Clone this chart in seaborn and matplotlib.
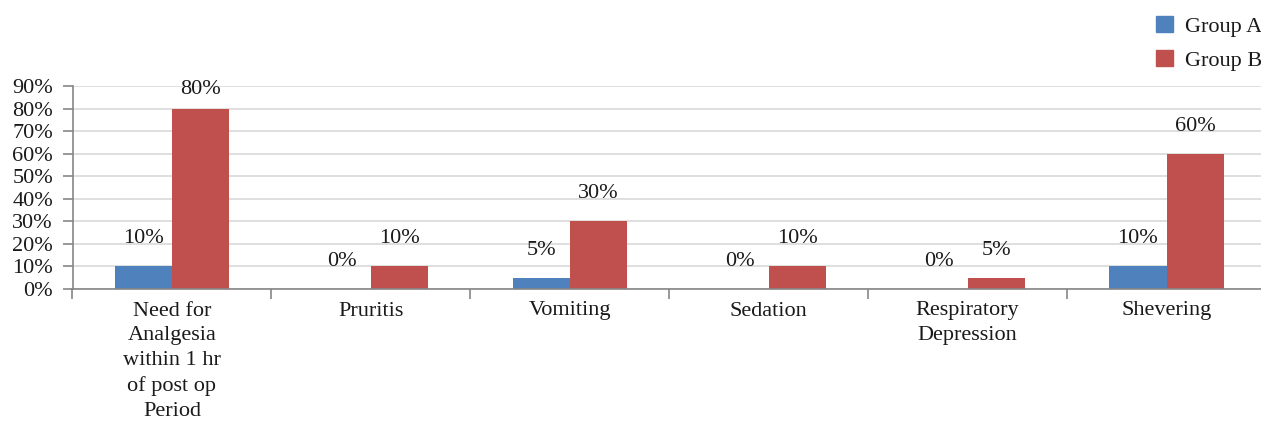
import matplotlib
matplotlib.use("Agg")
import matplotlib.pyplot as plt
import seaborn as sns
import pandas as pd
from matplotlib.ticker import FuncFormatter, MultipleLocator

categories = [
    "Need for\nAnalgesia\nwithin 1 hr\nof post op\nPeriod",
    "Pruritis",
    "Vomiting",
    "Sedation",
    "Respiratory\nDepression",
    "Shevering",
]
group_a = [10, 0, 5, 0, 0, 10]
group_b = [80, 10, 30, 10, 5, 60]
series_names = ["Group A", "Group B"]
palette = ["#4F81BD", "#C0504D"]

df = pd.DataFrame({
    "category": categories * 2,
    "value": group_a + group_b,
    "group": [series_names[0]] * len(categories) + [series_names[1]] * len(categories),
})

sns.set_theme(style="white")
plt.rcParams["font.family"] = ["Liberation Serif", "DejaVu Serif"]
FS = 16
TXT = "#1a1a1a"
AXC = "#868686"

fig = plt.figure(figsize=(12.61, 4.25), dpi=100)
ax = fig.add_axes([72.5 / 1261, 136 / 425, 1193.5 / 1261, 203 / 425])

sns.barplot(data=df, x="category", y="value", hue="group", palette=palette,
            width=0.575, gap=0, saturation=1, ax=ax, legend=False,
            order=categories, hue_order=series_names)

ax.set_ylim(0, 90)
ax.set_xlim(-0.5, len(categories) - 0.5)

for cont in ax.containers:
    for p in cont.patches:
        p.set_edgecolor("none")
    anns = ax.bar_label(cont, labels=[f"{v:g}%" for v in cont.datavalues],
                        padding=13, fontsize=FS, color=TXT)
    # keep labels of tall bars inside the plot area
    for ann, v in zip(anns, cont.datavalues):
        if v > 75:
            ann.xyann = (ann.xyann[0], 7)

ax.yaxis.set_major_locator(MultipleLocator(10))
ax.yaxis.set_major_formatter(FuncFormatter(lambda v, _: f"{v:.0f}%"))
ax.grid(axis="y", color="#D9D9D9", linewidth=1.2)
ax.set_axisbelow(True)
ax.set_xlabel("")
ax.set_ylabel("")

for s in ["top", "right"]:
    ax.spines[s].set_visible(False)
for s in ["left", "bottom"]:
    ax.spines[s].set_color(AXC)
    ax.spines[s].set_linewidth(1.2)

# category boundaries carry the x ticks; labels sit at the centres
ax.set_xticks([i - 0.5 for i in range(len(categories) + 1)], minor=True)
ax.set_xticks(range(len(categories)))
ax.set_xticklabels(categories, fontsize=FS, linespacing=1.42, va="top")
ax.tick_params(axis="x", which="major", bottom=True, length=0, pad=9)
ax.tick_params(axis="x", which="minor", bottom=True, length=7, width=1.2,
               color=AXC, direction="out")
ax.tick_params(axis="y", left=True, length=7, width=1.2, color=AXC,
               direction="out", labelsize=FS, pad=7)
for t in ax.get_yticklabels() + ax.get_xticklabels():
    t.set_color(TXT)

handles = [plt.Rectangle((0, 0), 1, 1, color=c) for c in palette]
fig.legend(handles, series_names, loc="upper right", bbox_to_anchor=(1.017, 1.01),
           frameon=False, fontsize=FS, handlelength=0.75, handleheight=0.75,
           handletextpad=0.55, labelspacing=0.6, labelcolor=TXT)

fig.savefig("out.png", dpi=100)
